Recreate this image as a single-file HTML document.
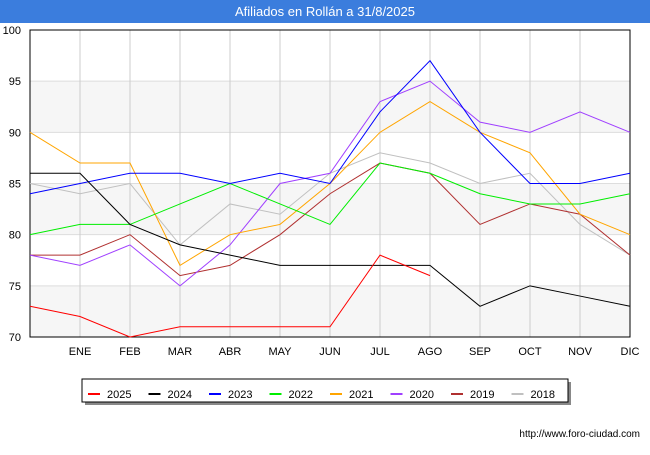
<!DOCTYPE html>
<html><head><meta charset="utf-8"><style>
body{margin:0;width:650px;height:450px;background:#fff;font-family:"Liberation Sans",sans-serif;overflow:hidden}
</style></head><body>
<svg width="650" height="450" xmlns="http://www.w3.org/2000/svg">
<rect x="0" y="0" width="650" height="23" fill="#3b7ddd"/>
<text x="325" y="16" text-anchor="middle" fill="#fff" font-size="13">Afiliados en Rollán a 31/8/2025</text>
<g id="plot"></g>
<text x="640" y="437" text-anchor="end" font-size="10" fill="#000">http://www.foro-ciudad.com</text>
</svg>
<script>
const months=["","ENE","FEB","MAR","ABR","MAY","JUN","JUL","AGO","SEP","OCT","NOV","DIC"];
const yTicks=[70,75,80,85,90,95,100];
const seriesNames=["2025","2024","2023","2022","2021","2020","2019","2018"];
const seriesColors=["#ff0000","#000000","#0000ff","#00ee00","#ffa500","#a040ff","#b03030","#c0c0c0"];
const s2025=[73,72,70,71,71,71,71,78,76];
const s2024=[86,86,81,79,78,77,77,77,77,73,75,74,73];
const s2023=[84,85,86,86,85,86,85,92,97,90,85,85,86];
const s2022=[80,81,81,83,85,83,81,87,86,84,83,83,84];
const s2021=[90,87,87,77,80,81,85,90,93,90,88,82,80];
const s2020=[78,77,79,75,79,85,86,93,95,91,90,92,90];
const s2019=[78,78,80,76,77,80,84,87,86,81,83,82,78];
const s2018=[85,84,85,79,83,82,86,88,87,85,86,81,78];
const allSeries=[s2025,s2024,s2023,s2022,s2021,s2020,s2019,s2018];
const L=30,R=630,T=30,B=337,NS="http://www.w3.org/2000/svg";
const x=i=>L+i*(R-L)/(months.length-1);
const y=v=>B-(v-70)*(B-T)/30;
const g=document.getElementById('plot');
function mk(t,a){const e=document.createElementNS(NS,t);for(const k in a)e.setAttribute(k,a[k]);g.appendChild(e);return e;}
for(let i=0;i<yTicks.length-1;i+=2){const r=mk('rect',{x:L,y:y(yTicks[i+1]),width:R-L,height:y(yTicks[i])-y(yTicks[i+1]),fill:'#f6f6f6'});

}
yTicks.forEach(v=>{const l=mk('line',{x1:L,x2:R,y1:y(v),y2:y(v),stroke:'#ddd'});


const t=mk('text',{x:L-9,y:y(v)+4,'text-anchor':'end','font-size':11});t.textContent=v;

});
months.forEach((m,i)=>{const l=mk('line',{x1:x(i),x2:x(i),y1:T,y2:B,stroke:'#ccc'});


const t=mk('text',{x:x(i),y:B+18,'text-anchor':'middle','font-size':11});t.textContent=m;

});
const fr=mk('rect',{x:L,y:T,width:R-L,height:B-T,fill:'none',stroke:'#000'});


for(let s=allSeries.length-1;s>=0;s--){const p=mk('polyline',{points:allSeries[s].map((v,i)=>x(i)+','+y(v)).join(' '),fill:'none',stroke:seriesColors[s],'stroke-width':1});

}
const sh=mk('rect',{x:85,y:382,width:486,height:23,fill:'#888'});


const lb=mk('rect',{x:82,y:379,width:486,height:23,fill:'#fff',stroke:'#000'});


seriesNames.forEach((n,i)=>{const bx=88+i*60.5;
const l=mk('line',{x1:bx,x2:bx+12,y1:394,y2:394,stroke:seriesColors[i],'stroke-width':2});


const t=mk('text',{x:bx+19,y:398,'font-size':11});t.textContent=n;

});
</script>
</body></html>
